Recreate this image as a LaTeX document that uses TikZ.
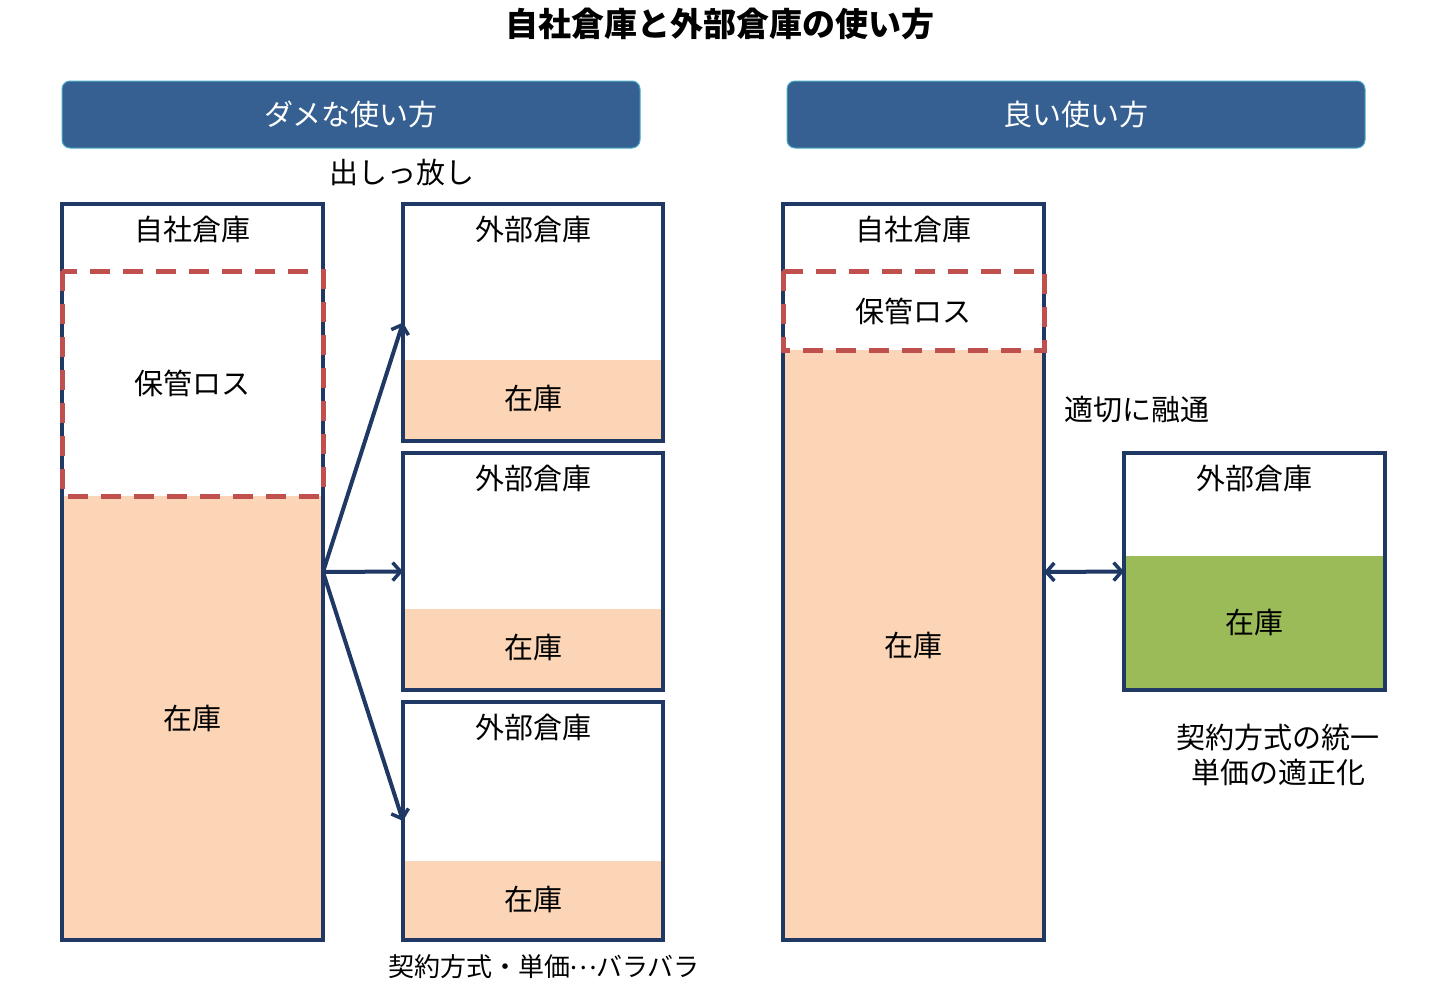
\documentclass[tikz,border=0pt]{standalone}
\usepackage{fontspec}
\setmainfont{Noto Sans CJK JP}
\usetikzlibrary{arrows.meta}
\definecolor{navy}{HTML}{1F3864}
\definecolor{hdr}{HTML}{376092}
\definecolor{hdrline}{HTML}{4BACC6}
\definecolor{stock}{HTML}{FBD5B5}
\definecolor{green}{HTML}{9BBB59}
\definecolor{lossred}{HTML}{C0504D}
\tikzset{
  frame/.style={draw=navy, line width=4pt, anchor=north west, inner sep=0pt, outer sep=0pt},
  header/.style={fill=hdr, draw=hdrline, line width=1pt, rounded corners=8pt, anchor=north west, outer sep=0pt,
    minimum width=578pt, minimum height=67pt, text=white, font=\fontsize{29}{34}\selectfont},
  lbl/.style={font=\fontsize{29}{34}\selectfont, inner sep=0pt},
  small/.style={font=\fontsize{26}{31}\selectfont, inner sep=0pt},
  loss/.style={draw=lossred, line width=5pt, dash pattern=on 20pt off 13pt},
  conn/.style={draw=navy, line width=4pt, -{Straight Barb[length=8pt,width=18pt,line width=3.5pt]}},
  dconn/.style={draw=navy, line width=4pt, {Straight Barb[length=8pt,width=18pt,line width=3.5pt]}-{Straight Barb[length=8pt,width=18pt,line width=3.5pt]}}
}
\begin{document}
\begin{tikzpicture}[x=1pt,y=-1pt]
\useasboundingbox (0,0) rectangle (1440,997);
% title
\node[font=\fontsize{33}{38}\selectfont\bfseries, inner sep=0pt] (title) at (720,24) {自社倉庫と外部倉庫の使い方};
% headers
\node[header] (hbad) at (62,81) {ダメな使い方};
\node[header] (hgood) at (787,81) {良い使い方};
\node[lbl] (dashi) at (402,172) {出しっ放し};
% ---- left own warehouse
\fill[stock] (62,496) rectangle (323,940);
\node[frame, minimum width=261pt, minimum height=736pt] (own) at (62,204) {};
\draw[loss] (62,271) rectangle (323,496);
\node[lbl] (ownt) at (192,229) {自社倉庫};
\node[lbl] (lossA) at (192,383) {保管ロス};
\node[lbl] (stA) at (192,718) {在庫};
% ---- external warehouses
\fill[stock] (403,360) rectangle (663,441);
\node[frame, minimum width=260pt, minimum height=237pt] (ext1) at (403,204) {};
\node[lbl] (e1t) at (533,229) {外部倉庫};
\node[lbl] (e1s) at (533,398) {在庫};
\fill[stock] (403,609) rectangle (663,690);
\node[frame, minimum width=260pt, minimum height=237pt] (ext2) at (403,453) {};
\node[lbl] (e2t) at (533,478) {外部倉庫};
\node[lbl] (e2s) at (533,647) {在庫};
\fill[stock] (403,861) rectangle (663,940);
\node[frame, minimum width=260pt, minimum height=238pt] (ext3) at (403,702) {};
\node[lbl] (e3t) at (533,727) {外部倉庫};
\node[lbl] (e3s) at (533,899) {在庫};
\node[small] (bara) at (544,967) {契約方式・単価\makebox[1em]{\raisebox{0.3em}{…}}バラバラ};
% arrows
\draw[conn] (own.east) -- (ext1.west);
\draw[conn] (own.east) -- (ext2.west);
\draw[conn] (own.east) -- (ext3.west);
% ---- right own warehouse
\fill[stock] (783,350) rectangle (1044,940);
\node[frame, minimum width=261pt, minimum height=736pt] (own2) at (783,204) {};
\draw[loss] (783,271) rectangle (1044,350);
\node[lbl] (own2t) at (913,229) {自社倉庫};
\node[lbl] (lossB) at (913,311) {保管ロス};
\node[lbl] (stB) at (913,645) {在庫};
\node[lbl] (yuzu) at (1137,410) {適切に融通};
% ---- right external
\fill[green] (1124,556) rectangle (1385,690);
\node[frame, minimum width=261pt, minimum height=237pt] (ext4) at (1124,453) {};
\node[lbl] (e4t) at (1254,478) {外部倉庫};
\node[lbl] (e4s) at (1254,622) {在庫};
\draw[dconn] (own2.east) -- (ext4.west);
\node[lbl, align=center, font=\fontsize{29}{35}\selectfont] (unify) at (1278,755) {契約方式の統一\\単価の適正化};
\end{tikzpicture}
\end{document}
